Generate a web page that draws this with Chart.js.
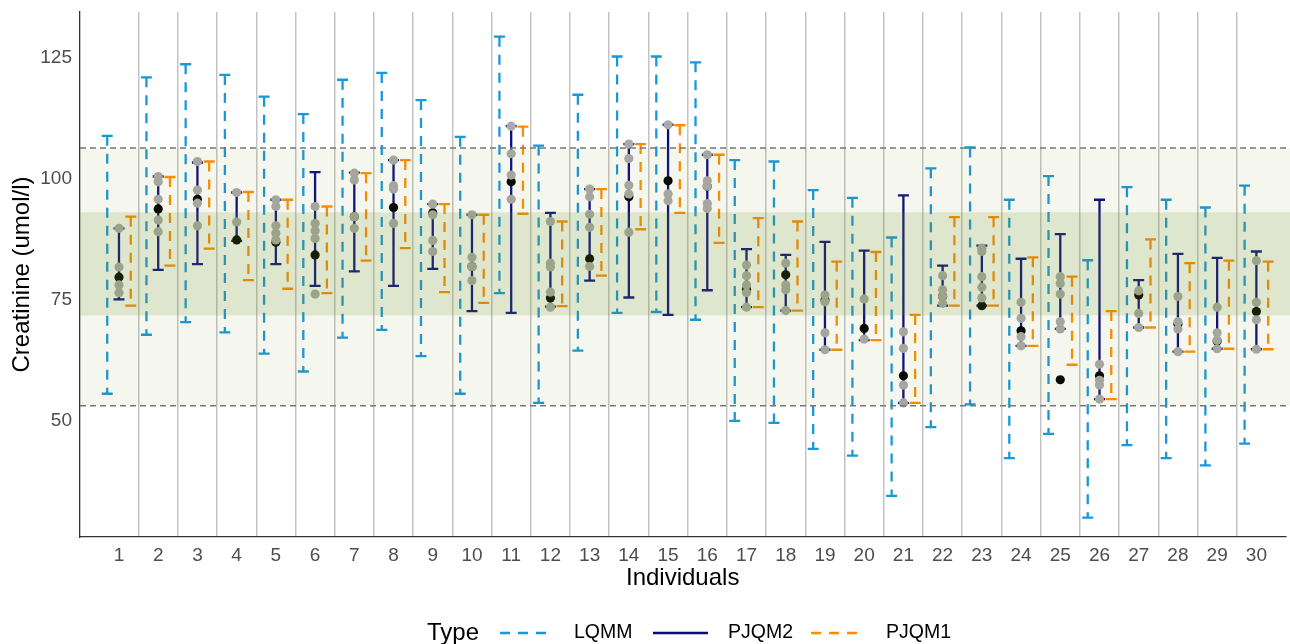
<!DOCTYPE html>
<html><head><meta charset="utf-8">
<script src="https://cdn.jsdelivr.net/npm/chart.js@4.4.0/dist/chart.umd.min.js"></script>
<style>html,body{margin:0;padding:0;background:#fff;}#wrap{width:1290px;height:644px;}</style>
</head><body><div id="wrap"><canvas id="c" width="1290" height="644"></canvas></div>
<script>
const individuals = Array.from({length:30},(_, i)=>i+1);
const yTicks = [50, 75, 100, 125];
const refLines = [53.1, 106.4];
const innerBand = [71.8, 93.1];

const lqmmLow  = [55.6,67.8,70.4,68.3,63.9,60.2,67.2,68.8,63.4,55.6,76.4,53.7,64.5,72.3,72.5,70.9,50.0,49.6,44.2,42.8,34.5,48.7,53.4,42.3,47.3,30.0,45.0,42.3,40.8,45.3];
const lqmmHigh = [108.9,121.0,123.7,121.5,117.0,113.4,120.5,121.9,116.3,108.7,129.4,106.9,117.4,125.3,125.3,124.1,103.9,103.6,97.7,96.1,87.9,102.2,106.5,95.7,100.6,83.2,98.3,95.7,94.1,98.6];
const pjqm2Low  = [75.1,81.2,82.4,87.2,82.4,77.9,80.9,77.9,81.4,72.7,72.3,73.6,79.0,75.5,71.9,77.0,73.5,72.8,64.7,66.7,53.7,73.8,73.8,65.5,69.0,54.5,69.3,64.3,64.9,64.8];
const pjqm2High = [89.8,100.5,103.4,97.2,95.7,101.4,101.3,103.9,94.8,92.6,110.9,93.0,97.9,107.2,111.2,105.0,85.5,84.3,87.0,85.2,96.6,82.1,86.2,83.5,88.6,95.7,79.1,84.5,83.7,85.0];
const pjqm1Low  = [73.8,82.1,85.6,79.1,77.3,76.4,83.1,85.7,76.6,74.4,92.8,73.7,80.0,89.6,93.0,86.8,73.5,72.8,64.7,66.7,53.7,73.8,73.8,65.5,61.6,54.5,69.3,64.3,64.9,64.8];
const pjqm1High = [92.2,100.4,103.6,97.3,95.7,94.3,101.2,103.9,94.8,92.6,110.8,91.2,97.9,107.2,111.1,105.0,91.9,91.2,82.9,84.9,71.9,92.1,92.1,83.8,79.8,72.7,87.5,82.6,83.1,82.9];
const blackPoints = [79.7,93.8,95.8,87.4,86.9,84.3,92.2,94.1,93.0,81.9,99.4,75.4,83.5,96.3,99.6,98.5,77.2,80.2,75.0,69.1,59.3,75.7,73.8,68.6,58.5,59.3,76.0,70.0,66.5,72.6];
const greyPoints = [
  [89.8,81.8,78.1,76.5],[100.5,99.4,95.8,91.5,89.1],[103.6,97.7,95.0,90.3],[97.2,91.1],[95.7,94.3,90.3,88.8,87.4],
  [94.3,90.8,89.3,87.7,76.2],[101.2,99.8,92.2,89.8],[103.9,98.6,97.9,90.8],[94.8,92.6,87.3,85.0],[92.6,83.8,81.9,79.0],
  [110.9,105.2,100.8,95.8],[91.2,82.6,81.8,76.6,73.5],[97.9,96.3,92.7,90.0,81.9],[107.2,104.2,98.7,96.9,89.0],[111.2,96.9,95.5],
  [105.0,99.6,98.5,94.9,93.9],[82.2,80.0,78.1,76.5,73.5],[82.6,78.1,77.1,72.8],[76.0,74.6,68.2,64.7],[75.2,66.9],
  [68.4,65.0,57.4,53.7],[80.0,77.1,75.7,74.3],[85.7,85.0,79.8,77.6,75.4],[74.5,71.2,67.4,65.5],[79.8,78.4,76.2,70.5,69.0],
  [61.7,58.4,57.4,54.5],[76.9,72.2,69.3],[75.7,70.5,69.0,64.3],[73.5,68.2,66.7,64.9],[83.1,74.5,70.9,64.8]
];
const seriesNames = ['LQMM','PJQM2','PJQM1'];

const COL = {LQMM:'#1897d9', PJQM2:'#0b0b80', PJQM1:'#ff8c00'};
const DASH = [10, 8];
const OFF = {LQMM:-0.3, PJQM2:0, PJQM1:0.3};
const CAPHW = 0.14;

function bars(lo, hi, off){
  const d=[]; individuals.forEach((ind,i)=>{ d.push({x:ind+off,y:hi[i]},{x:ind+off,y:lo[i]},{x:ind+off,y:null}); }); return d;
}
function caps(lo, hi, off){
  const d=[]; individuals.forEach((ind,i)=>{
    d.push({x:ind+off-CAPHW,y:hi[i]},{x:ind+off+CAPHW,y:hi[i]},{x:ind+off,y:null});
    d.push({x:ind+off-CAPHW,y:lo[i]},{x:ind+off+CAPHW,y:lo[i]},{x:ind+off,y:null});
  }); return d;
}
function lineDs(label, data, color, dash, order){
  return {label, data, borderColor:color, borderWidth:2.3, borderDash:dash, pointRadius:0, pointHitRadius:0, fill:false, tension:0, spanGaps:false, order, borderCapStyle:'butt'};
}
const greyData = []; individuals.forEach((ind,i)=>greyPoints[i].forEach(v=>greyData.push({x:ind,y:v})));
const blackData = individuals.map((ind,i)=>({x:ind,y:blackPoints[i]}));

Chart.defaults.font.family = "'Liberation Sans', Arial, sans-serif";

const bandPlugin = {
  id:'bands',
  afterDatasetsDraw(chart){
    const {ctx, chartArea:a, scales:{y}} = chart;
    const right = chart.width;
    ctx.save();
    ctx.beginPath(); ctx.rect(a.left, a.top, right-a.left, a.bottom-a.top); ctx.clip();
    const y1 = y.getPixelForValue(refLines[1]), y0 = y.getPixelForValue(refLines[0]);
    ctx.fillStyle = 'rgba(107,142,35,0.07)';
    ctx.fillRect(a.left, y1, right-a.left, y0-y1);
    const b1 = y.getPixelForValue(innerBand[1]), b0 = y.getPixelForValue(innerBand[0]);
    ctx.fillStyle = 'rgba(107,142,35,0.16)';
    ctx.fillRect(a.left, b1, right-a.left, b0-b1);
    ctx.strokeStyle = '#777777'; ctx.lineWidth = 1.5; ctx.setLineDash([6,4]);
    refLines.forEach(v=>{ const p = y.getPixelForValue(v); ctx.beginPath(); ctx.moveTo(a.left,p); ctx.lineTo(right,p); ctx.stroke(); });
    ctx.restore();
  }
};
const legendPlugin = {
  id:'typeLegend',
  afterDraw(chart){
    const ctx = chart.ctx; const cy = 633;
    ctx.save();
    ctx.textBaseline = 'middle'; ctx.textAlign = 'left'; ctx.fillStyle = '#000';
    ctx.font = "24px 'Liberation Sans', Arial, sans-serif";
    ctx.fillText('Type', 427, cy);
    const items = [
      {name:seriesNames[0], x0:500, x1:552, tx:574, dash:DASH},
      {name:seriesNames[1], x0:653, x1:708, tx:728, dash:[]},
      {name:seriesNames[2], x0:811, x1:863, tx:886, dash:DASH}
    ];
    items.forEach(it=>{
      ctx.strokeStyle = COL[it.name]; ctx.lineWidth = 2.6; ctx.setLineDash(it.dash);
      ctx.beginPath(); ctx.moveTo(it.x0, cy); ctx.lineTo(it.x1, cy); ctx.stroke();
      ctx.setLineDash([]);
      ctx.font = "19.5px 'Liberation Sans', Arial, sans-serif";
      ctx.fillText(it.name, it.tx, cy);
    });
    ctx.restore();
  }
};

new Chart(document.getElementById('c'), {
  type:'line',
  data:{datasets:[
    {label:'grey', data:greyData, showLine:false, pointRadius:4.6, pointBackgroundColor:'#a9a9a9', pointBorderWidth:0, pointHoverRadius:4.6, order:0},
    {label:'black', data:blackData, showLine:false, pointRadius:4.6, pointBackgroundColor:'#000000', pointBorderWidth:0, pointHoverRadius:4.6, order:1},
    lineDs('PJQM2', bars(pjqm2Low,pjqm2High,OFF.PJQM2), COL.PJQM2, [], 2),
    lineDs('PJQM2 caps', caps(pjqm2Low,pjqm2High,OFF.PJQM2), COL.PJQM2, [], 2),
    lineDs('PJQM1', bars(pjqm1Low,pjqm1High,OFF.PJQM1), COL.PJQM1, DASH, 3),
    lineDs('PJQM1 caps', caps(pjqm1Low,pjqm1High,OFF.PJQM1), COL.PJQM1, [], 3),
    lineDs('LQMM', bars(lqmmLow,lqmmHigh,OFF.LQMM), COL.LQMM, DASH, 4),
    lineDs('LQMM caps', caps(lqmmLow,lqmmHigh,OFF.LQMM), COL.LQMM, [], 4)
  ]},
  options:{
    responsive:false, animation:false, devicePixelRatio:1,
    layout:{padding:{top:12,right:0,left:0,bottom:0}},
    plugins:{legend:{display:false}, tooltip:{enabled:false}},
    events:[],
    scales:{
      x:{type:'linear', min:0.006, max:30.74,
        afterBuildTicks(s){ const t=[]; for(let v=1; v<=30; v+=0.5) t.push({value:v}); s.ticks=t; },
        afterFit(s){ s.height = 107; s.paddingLeft = 0; s.paddingRight = 0; },
        grid:{drawTicks:false, lineWidth:1.5, color:(c)=> (c.tick && c.tick.value%1===0.5) ? '#c3c3c3' : 'rgba(0,0,0,0)'},
        border:{display:true, color:'#333333', width:1.3},
        ticks:{autoSkip:false, maxRotation:0, minRotation:0, padding:7, color:'#4d4d4d', font:{size:19},
          callback:(v)=> Number.isInteger(v) ? String(v) : ''},
        title:{display:true, text:'Individuals', color:'#000', font:{size:24}, padding:{top:0,bottom:51}}
      },
      y:{type:'linear', min:26.0, max:134.5,
        afterBuildTicks(s){ s.ticks = yTicks.map(v=>({value:v})); },
        afterFit(s){ s.width = 80; s.paddingTop = 0; s.paddingBottom = 0; },
        grid:{display:false, drawTicks:false},
        border:{display:true, color:'#333333', width:1.3},
        ticks:{padding:8, color:'#4d4d4d', font:{size:19}},
        title:{display:true, text:'Creatinine (umol/l)', color:'#000', font:{size:24}, padding:{top:8,bottom:0}}
      }
    }
  },
  plugins:[bandPlugin, legendPlugin]
});
</script></body></html>
